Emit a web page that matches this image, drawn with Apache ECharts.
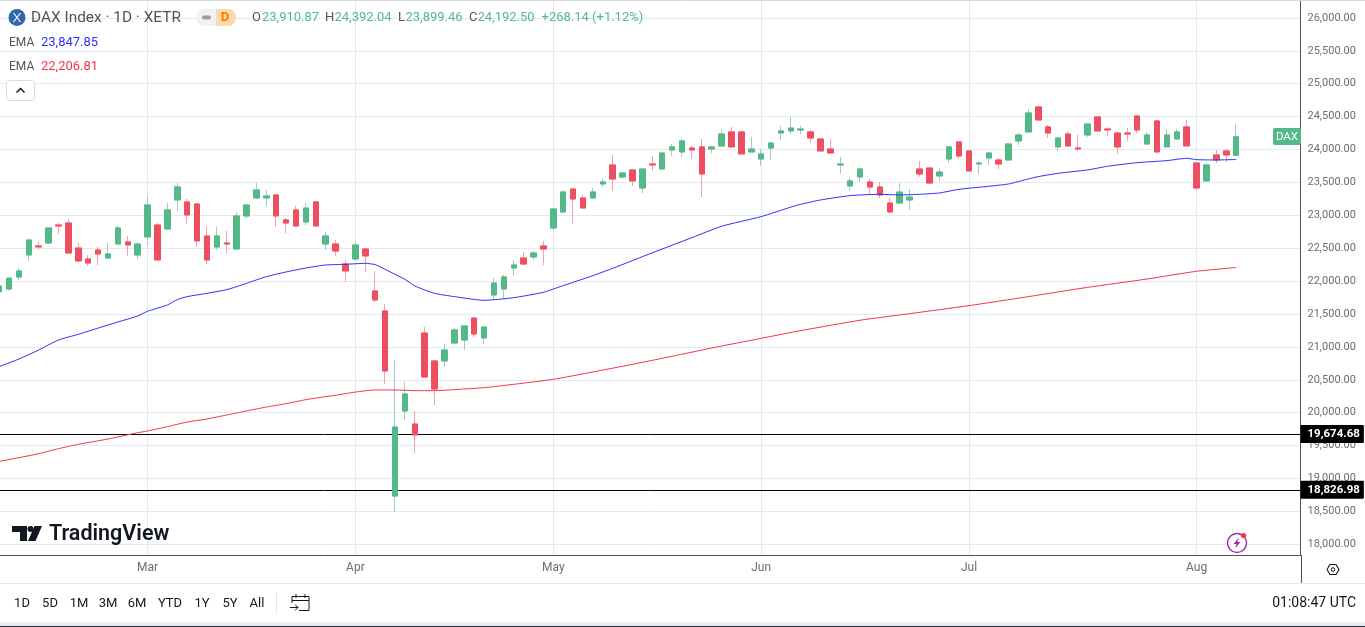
<!DOCTYPE html>
<html>
<head>
<meta charset="utf-8">
<title>DAX Index</title>
<style>
  html, body { margin: 0; padding: 0; background: #fff; }
  #chart { width: 1365px; height: 627px; }
</style>
<script src="https://cdn.jsdelivr.net/npm/echarts@6/dist/echarts.min.js"></script>
</head>
<body>
<div id="chart"></div>
<script>
const categories = [
  'Feb 10','Feb 11','Feb 12','Feb 13','Feb 14','Feb 17','Feb 18','Feb 19','Feb 20','Feb 21',
  'Feb 24','Feb 25','Feb 26','Feb 27','Feb 28','Mar 3','Mar 4','Mar 5','Mar 6','Mar 7',
  'Mar 10','Mar 11','Mar 12','Mar 13','Mar 14','Mar 17','Mar 18','Mar 19','Mar 20','Mar 21',
  'Mar 24','Mar 25','Mar 26','Mar 27','Mar 28','Mar 31','Apr 1','Apr 2','Apr 3','Apr 4',
  'Apr 7','Apr 8','Apr 9','Apr 10','Apr 11','Apr 14','Apr 15','Apr 16','Apr 17','Apr 22',
  'Apr 23','Apr 24','Apr 25','Apr 28','Apr 29','Apr 30','May 2','May 5','May 6','May 7',
  'May 8','May 9','May 12','May 13','May 14','May 15','May 16','May 19','May 20','May 21',
  'May 22','May 23','May 26','May 27','May 28','May 29','May 30','Jun 2','Jun 3','Jun 4',
  'Jun 5','Jun 6','Jun 9','Jun 10','Jun 11','Jun 12','Jun 13','Jun 16','Jun 17','Jun 18',
  'Jun 19','Jun 20','Jun 23','Jun 24','Jun 25','Jun 26','Jun 27','Jun 30','Jul 1','Jul 2',
  'Jul 3','Jul 4','Jul 7','Jul 8','Jul 9','Jul 10','Jul 11','Jul 14','Jul 15','Jul 16',
  'Jul 17','Jul 18','Jul 21','Jul 22','Jul 23','Jul 24','Jul 25','Jul 28','Jul 29','Jul 30',
  'Jul 31','Aug 1','Aug 4','Aug 5','Aug 6','Aug 7','Aug 8','Aug 11','Aug 12','Aug 13',
  'Aug 14','Aug 15'
];
const monthStarts = ['Mar 3', 'Apr 1', 'May 2', 'Jun 2', 'Jul 1', 'Aug 1'];
const priceTicks = [18000, 18500, 19000, 19500, 20000, 20500, 21000, 21500, 22000, 22500,
  23000, 23500, 24000, 24500, 25000, 25500, 26000];
const levelLines = [19674.68, 18826.98];

const opens = [
  21840,21880,22062,22397,22534,22579,22853,22883,22503,22336,
  22473,22351,22564,22595,22397,22671,22853,22792,23233,23203,
  23172,22686,22518,22579,22488,22990,23263,23263,23309,22929,
  23081,22899,23203,22564,22564,22260,22336,22488,21850,21546,
  18733,20026,19828,21211,20786,20786,21059,21105,21439,21135,
  21789,21880,22199,22351,22367,22534,22807,23050,23400,23263,
  23263,23476,23765,23582,23689,23415,23780,23704,23993,23963,
  24023,24039,24008,24054,24267,24267,23963,23856,24023,24251,
  24282,24297,24267,24160,24008,23765,23446,23583,23506,23430,
  23187,23187,23233,23704,23719,23598,23856,24115,23978,23780,
  23871,23841,23841,24130,24267,24647,24343,24039,24236,24023,
  24221,24495,24312,24251,24251,24510,24084,24434,24039,24160,
  24343,23795,23522,23917,23978,23910.87
];
const closes = [
  21925,22045,22154,22625,22519,22807,22838,22427,22306,22275,
  22412,22412,22807,22549,22564,23157,22321,23081,23431,23005,
  22610,22321,22686,22564,22990,23157,23385,23294,22990,22883,
  22838,23111,22838,22686,22458,22154,22549,22382,21713,20634,
  19782,20284,19661,20542,20360,20953,21257,21318,21196,21302,
  21971,22063,22245,22260,22427,22488,23096,23355,23248,23111,
  23355,23507,23552,23643,23522,23704,23765,23947,24039,24130,
  23993,23628,24039,24236,24039,23932,24008,23932,24099,24282,
  24327,24312,24175,23978,23947,23780,23522,23704,23430,23309,
  23051,23354,23278,23628,23491,23658,24039,23902,23674,23795,
  23947,23780,24084,24221,24555,24449,24251,24175,24054,24008,
  24388,24282,24297,24039,24236,24297,24221,23963,24221,24267,
  24054,23415,23765,23841,23917,24192.5
];
const lows = [
  21810,21850,22017,22306,22473,22564,22716,22420,22290,22230,
  22245,22336,22560,22382,22336,22534,22315,22785,23066,22868,
  22518,22260,22473,22427,22473,22944,23248,23142,22823,22731,
  22823,22853,22830,22473,22382,21987,22306,22139,21682,20436,
  18490,19889,19387,20535,20117,20694,21044,20953,21150,21044,
  21723,21738,22078,22255,22321,22245,22777,23045,22868,23105,
  23248,23430,23370,23552,23446,23339,23674,23689,23902,23887,
  23856,23278,23947,24039,24035,23930,23960,23750,23841,24145,
  24236,24236,24099,23975,23940,23628,23370,23506,23309,23263,
  23045,23180,23081,23583,23476,23522,23795,23856,23670,23628,
  23765,23704,23835,24069,24260,24445,24175,23978,24050,23978,
  24191,24267,24206,23932,24130,24251,24069,23947,24035,24145,
  24050,23385,23520,23795,23810,23899.46
];
const highs = [
  21950,22060,22199,22630,22610,22810,22883,22944,22579,22397,
  22518,22579,22838,22686,22570,23309,22883,23187,23491,23248,
  23175,22838,22823,22762,23051,23160,23491,23385,23324,22959,
  23142,23187,23218,22747,22625,22321,22600,22495,22154,21652,
  20801,20466,20026,21302,20801,21044,21287,21320,21440,21305,
  22047,22093,22321,22443,22458,22610,23100,23370,23405,23309,
  23415,23552,23917,23659,23704,23710,23902,23950,24084,24160,
  24054,24160,24054,24312,24343,24270,24191,24008,24115,24358,
  24495,24358,24297,24175,24160,23887,23567,23719,23552,23506,
  23263,23491,23400,23826,23725,23719,24054,24130,23993,23826,
  23950,23871,24090,24251,24616,24650,24373,24180,24282,24221,
  24390,24510,24343,24255,24327,24525,24267,24449,24312,24312,
  24449,23810,23795,23993,24008,24392.04
];

// [candle index, value]
const emaFast = [
  [0,20700],[2,20816],[4,20953],[6,21105],[8,21191],[11,21333],[14,21470],[15,21541],
  [17,21637],[18,21718],[19,21764],[21,21814],[23,21870],[25,21966],[27,22068],[29,22139],
  [31,22199],[33,22245],[35,22255],[37,22270],[38,22250],[39,22179],[40,22103],[41,22027],
  [42,21926],[44,21814],[46,21764],[49,21708],[52,21748],[55,21829],[56,21880],[58,21981],
  [60,22083],[62,22194],[66,22430],[70,22660],[73,22833],[77,22980],[80,23125],[81,23167],
  [83,23233],[86,23299],[89,23319],[91,23309],[93,23319],[95,23339],[97,23395],[100,23441],
  [102,23476],[104,23552],[105,23588],[107,23638],[110,23690],[112,23745],[115,23800],
  [118,23831],[120,23866],[121,23846],[123,23841],[125,23847.85]
];
const emaSlow = [
  [0,19260],[2,19316],[4,19377],[6,19453],[8,19519],[11,19600],[14,19696],[15,19722],
  [17,19788],[19,19858],[21,19904],[23,19965],[25,20026],[27,20086],[29,20137],[31,20198],
  [33,20244],[34,20264],[36,20314],[38,20345],[40,20345],[42,20335],[44,20335],[47,20360],
  [49,20380],[52,20431],[56,20507],[60,20619],[64,20735],[68,20857],[72,20983],[77,21130],
  [81,21247],[87,21405],[92,21505],[98,21627],[104,21764],[110,21905],[116,22032],
  [121,22149],[125,22206.81]
];

const UP = '#53b987';
const DOWN = '#ee4f60';
const UP_WICK = '#a3cbc6';
const DOWN_WICK = '#f79fab';
const GRID = '#e3ebf1';
const AXIS = '#50535e';
const FONT = 'Roboto, sans-serif';

const wicks = opens.map((o, i) => [o, closes[i], lows[i], highs[i]]);
const bodies = opens.map((o, i) => [o, closes[i], Math.min(o, closes[i]), Math.max(o, closes[i])]);

function label(x, y, text, fill, size, align, weight) {
  return {
    type: 'text',
    silent: true,
    z: 20,
    style: {
      x, y, text, fill,
      font: `${weight || 'normal'} ${size}px ${FONT}`,
      align: align || 'left',
      verticalAlign: 'middle',
    },
  };
}

function rect(x, y, width, height, fill, r) {
  return { type: 'rect', silent: true, z: 19, shape: { x, y, width, height, r: r || 0 }, style: { fill } };
}

function line(x1, y1, x2, y2, stroke, lineWidth) {
  return { type: 'line', silent: true, z: 19, shape: { x1, y1, x2, y2 }, style: { stroke, lineWidth: lineWidth || 1 } };
}

function poly(points, fill) {
  return { type: 'polygon', silent: true, z: 20, shape: { points }, style: { fill } };
}

function polyline(points, stroke, lineWidth) {
  return { type: 'polyline', silent: true, z: 20, shape: { points }, style: { stroke, lineWidth: lineWidth || 1, fill: 'none' } };
}

const rangeButtons = [
  ['1D', 22], ['5D', 50], ['1M', 79], ['3M', 108], ['6M', 137],
  ['YTD', 170], ['1Y', 202], ['5Y', 230], ['All', 257],
];

const graphics = [
  // header
  line(0, 0.5, 1365, 0.5, '#d6d8de'),
  { type: 'circle', silent: true, z: 20, shape: { cx: 17, cy: 17.5, r: 8.5 }, style: { fill: '#2f66ad' } },
  polyline([[13.5, 13], [20.5, 22]], '#fff', 1.2),
  polyline([[20.5, 13], [13.5, 22]], '#fff', 1.2),
  label(31, 18, 'DAX Index · 1D · XETR', '#50535e', 15.4),
  rect(196, 9, 40, 17, '#f0f1f3', 8),
  rect(216, 9, 20, 17, '#ffd9a8', 8),
  rect(216, 9, 8, 17, '#ffd9a8'),
  rect(202, 15.5, 9, 4, '#9a9ea8', 2),
  label(225, 18, 'D', '#f57c00', 13, 'center', 'bold'),
  label(252, 18, 'O', '#50535e', 13),
  label(262, 18, '23,910.87', UP, 13),
  label(325, 18, 'H', '#50535e', 13),
  label(334.5, 18, '24,392.04', UP, 13),
  label(398, 18, 'L', '#50535e', 13),
  label(405.5, 18, '23,899.46', UP, 13),
  label(469, 18, 'C', '#50535e', 13),
  label(477.5, 18, '24,192.50', UP, 13),
  label(541.5, 18, '+268.14 (+1.12%)', UP, 13),
  label(9, 43, 'EMA', '#50535e', 12),
  label(41, 43, '23,847.85', '#3030ff', 13),
  label(9, 67, 'EMA', '#50535e', 12),
  label(41, 67, '22,206.81', '#f23645', 13),
  { type: 'rect', silent: true, z: 19, shape: { x: 6.5, y: 80.5, width: 28, height: 20, r: 3 }, style: { fill: '#fff', stroke: '#d9dbe1' } },
  polyline([[16.5, 92.5], [20.5, 88.5], [24.5, 92.5]], '#131722', 1.5),

  // last price tag
  rect(1273, 128, 28, 17, UP, 2),
  label(1287, 137, 'DAX', '#fff', 11.5, 'center'),

  // logo
  poly([[12, 526], [27, 526], [27, 541], [20, 541], [20, 532], [12, 532]], '#131722'),
  { type: 'circle', silent: true, z: 20, shape: { cx: 30.5, cy: 529, r: 3 }, style: { fill: '#131722' } },
  poly([[34.5, 526], [42, 526], [35.5, 541], [28, 541]], '#131722'),
  label(49, 534.5, 'TradingView', '#131722', 21.5, 'left', '600'),

  // lightning badge
  { type: 'circle', silent: true, z: 20, shape: { cx: 1237, cy: 543, r: 9.5 }, style: { fill: '#fff', stroke: '#9c27b0', lineWidth: 1.4 } },
  poly([[1239, 537.5], [1233.5, 544], [1236.5, 544], [1235, 548.5], [1240.5, 542], [1237.5, 542]], '#9c27b0'),
  { type: 'circle', silent: true, z: 21, shape: { cx: 1243.5, cy: 535.5, r: 2.6 }, style: { fill: '#f23645' } },

  // time strip and toolbar
  line(1301.5, 555, 1301.5, 583, AXIS),
  line(0, 583.5, 1365, 583.5, '#e6e8ec'),
  poly([[1328, 569.5], [1330.5, 565], [1335.5, 565], [1338, 569.5], [1335.5, 574], [1330.5, 574]], '#fff'),
  polyline([[1327, 569.5], [1330, 564.5], [1336, 564.5], [1339, 569.5], [1336, 574.5], [1330, 574.5], [1327, 569.5]], '#131722', 1.1),
  { type: 'circle', silent: true, z: 21, shape: { cx: 1333, cy: 569.5, r: 1.8 }, style: { fill: 'none', stroke: '#131722' } },
  ...rangeButtons.map(([t, x]) => label(x, 603.5, t, '#131722', 13, 'center')),
  line(276.5, 592, 276.5, 614, '#e6e8ec'),
  polyline([[292, 603], [292, 596.5], [309, 596.5], [309, 610.5], [299, 610.5]], '#131722'),
  polyline([[292, 600.5], [309, 600.5]], '#131722'),
  polyline([[296, 594], [296, 598]], '#131722'),
  polyline([[305, 594], [305, 598]], '#131722'),
  polyline([[290, 607.5], [298, 607.5]], '#131722'),
  polyline([[295, 604.5], [298, 607.5], [295, 610.5]], '#131722'),
  label(1356, 603.5, '01:08:47 UTC', '#131722', 14, 'right'),
  rect(0, 622, 1365, 4, '#ececee'),
  rect(0, 626, 1365, 1, '#2a2e39'),
];

const chart = echarts.init(document.getElementById('chart'), null, { renderer: 'canvas' });

chart.setOption({
  animation: false,
  backgroundColor: '#fff',
  grid: { left: -5.8, right: 64.5, top: 1, bottom: 72, outerBoundsMode: 'none' },
  xAxis: {
    type: 'category',
    data: categories,
    boundaryGap: true,
    axisLine: { lineStyle: { color: AXIS, width: 1 } },
    axisTick: { show: false },
    axisLabel: {
      margin: 7,
      color: '#6a6d78',
      fontFamily: FONT,
      fontSize: 12,
      interval: (i, name) => monthStarts.includes(name),
      formatter: (name) => name.split(' ')[0],
    },
    splitLine: {
      show: true,
      alignWithLabel: true,
      interval: (i, name) => monthStarts.includes(name),
      lineStyle: { color: GRID, width: 1 },
    },
  },
  yAxis: {
    type: 'value',
    position: 'right',
    min: 17837,
    max: 26257,
    axisLine: { show: true, lineStyle: { color: AXIS, width: 1 } },
    axisTick: { show: false, customValues: priceTicks },
    axisLabel: {
      customValues: priceTicks,
      margin: 7,
      color: '#6a6d78',
      fontFamily: FONT,
      fontSize: 11,
      formatter: (v) => v.toLocaleString('en-US', { minimumFractionDigits: 2, maximumFractionDigits: 2 }),
    },
    splitLine: { show: true, lineStyle: { color: GRID, width: 1 } },
  },
  series: [
    {
      name: 'Wicks',
      type: 'candlestick',
      data: wicks,
      barWidth: 6,
      itemStyle: { color: UP, color0: DOWN, borderColor: UP_WICK, borderColor0: DOWN_WICK, borderWidth: 1 },
      markLine: {
        silent: true,
        symbol: 'none',
        z: 1,
        animation: false,
        lineStyle: { color: '#000', width: 1, type: 'solid' },
        label: {
          show: true,
          position: 'end',
          distance: 0,
          color: '#fff',
          fontFamily: FONT,
          fontSize: 11.5,
          fontWeight: 'bold',
          backgroundColor: '#000',
          padding: [3, 4, 3, 7],
          borderRadius: 1,
          formatter: ({ value }) => value.toLocaleString('en-US', { minimumFractionDigits: 2 }),
        },
        data: levelLines.map((yAxis) => ({ yAxis })),
      },
    },
    {
      name: 'DAX',
      type: 'candlestick',
      data: bodies,
      barWidth: 6,
      itemStyle: { color: UP, color0: DOWN, borderColor: UP, borderColor0: DOWN, borderWidth: 1 },
    },
    {
      name: 'EMA fast',
      type: 'line',
      data: emaFast,
      showSymbol: false,
      smooth: 0.2,
      z: 5,
      lineStyle: { color: '#2e2eff', width: 1 },
    },
    {
      name: 'EMA slow',
      type: 'line',
      data: emaSlow,
      showSymbol: false,
      smooth: 0.2,
      z: 5,
      lineStyle: { color: '#f23645', width: 1 },
    },
  ],
  graphic: graphics,
});
</script>
</body>
</html>
